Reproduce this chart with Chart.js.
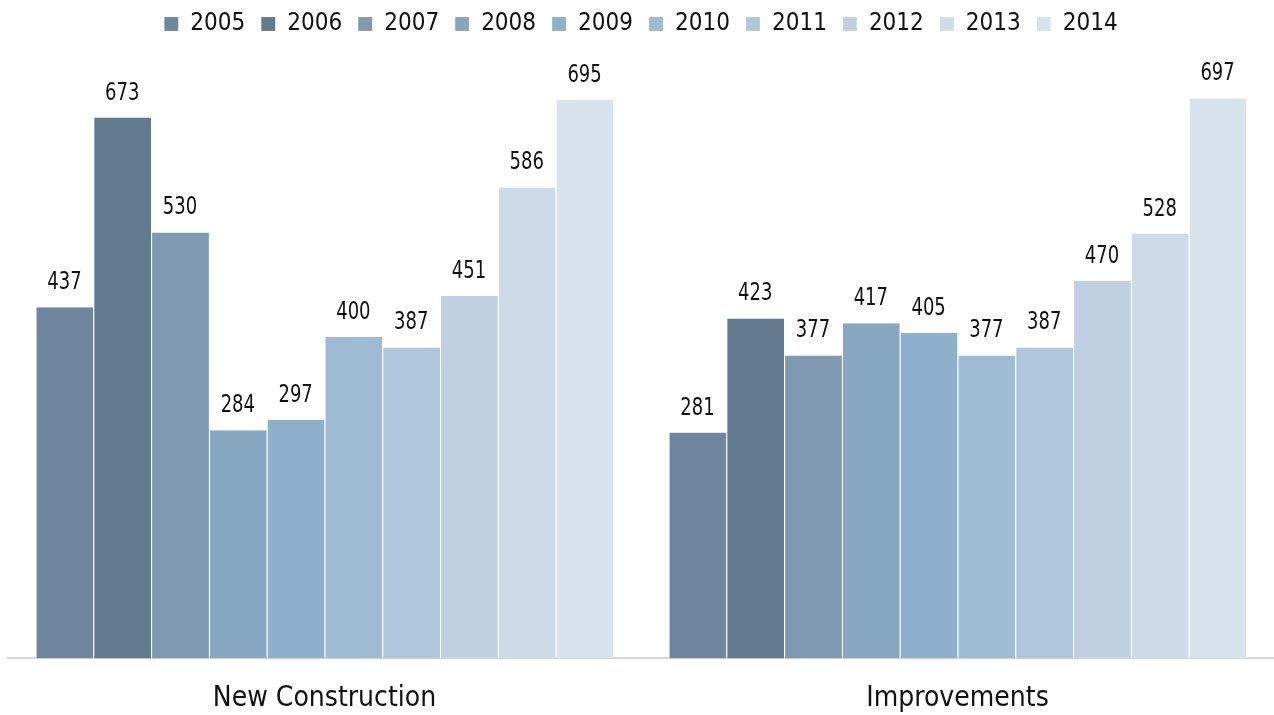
<!DOCTYPE html>
<html>
  <head>
    <meta charset="utf-8">
    <title>Construction vs Improvements</title>
    <script src="https://cdn.jsdelivr.net/npm/chart.js@4.4.0/dist/chart.umd.min.js"></script>
    <style>
      html, body { margin: 0; padding: 0; background: #fff; }
      #wrap { width: 1274px; height: 715px; }
    </style>
  </head>
  <body>
    <div id="wrap"><canvas id="chart"></canvas></div>

    <script type="text/javascript">
    var categories = ["New Construction", "Improvements"]
    var years = ["2005", "2006", "2007", "2008", "2009", "2010", "2011", "2012", "2013", "2014"]
    var newConstruction = [437, 673, 530, 284, 297, 400, 387, 451, 586, 695]
    var improvements = [281, 423, 377, 417, 405, 377, 387, 470, 528, 697]

    var colors = ["#6f879e", "#627a8f", "#7e99b0", "#87a6bf", "#8eb0cb",
                  "#9fbbd4", "#b0c6dc", "#c0d0e2", "#cddae7", "#d9e3ed"]

    var font = "'Liberation Sans Narrow', 'Arial Narrow', 'DejaVu Sans Condensed', sans-serif"
    Chart.defaults.font.family = font
    Chart.defaults.color = "#111"

    var datasets = years.map(function(y, i) {
      return {
        label: y,
        data: [newConstruction[i], improvements[i]],
        backgroundColor: colors[i],
        borderColor: "rgba(255,255,255,0.55)",
        borderWidth: {left: 1, right: 0, top: 0, bottom: 0},
        borderSkipped: false,
        categoryPercentage: 0.913,
        barPercentage: 1
      }
    })

    // draws the value above every bar (squeezed a bit, the original font is narrow)
    var valueLabels = {
      id: "valueLabels",
      afterDatasetsDraw: function(chart) {
        var ctx = chart.ctx
        var sx = 0.8
        ctx.save()
        ctx.font = "25px " + font
        ctx.fillStyle = "#111"
        ctx.textAlign = "center"
        ctx.textBaseline = "alphabetic"
        chart.data.datasets.forEach(function(ds, i) {
          chart.getDatasetMeta(i).data.forEach(function(bar, j) {
            ctx.save()
            ctx.translate(bar.x, bar.y - 18)
            ctx.scale(sx, 1)
            ctx.fillText(ds.data[j], 0, 0)
            ctx.restore()
          })
        })
        ctx.restore()
      }
    }

    var chart = new Chart(document.getElementById("chart"), {
      type: "bar",
      data: { labels: categories, datasets: datasets },
      plugins: [valueLabels],
      options: {
        responsive: true,
        maintainAspectRatio: false,
        animation: false,
        layout: { padding: { left: 8, right: 0, top: -4, bottom: -17 } },
        plugins: {
          tooltip: { enabled: false },
          legend: {
            position: "top",
            labels: {
              boxWidth: 14,
              boxHeight: 14,
              padding: 16,
              font: { size: 24 },
              color: "#111"
            }
          }
        },
        scales: {
          x: {
            grid: { display: false },
            border: { color: "#d6d6d6", width: 2 },
            ticks: { font: { size: 28 }, color: "#111", padding: 16 }
          },
          y: {
            display: false,
            min: 0,
            max: 762
          }
        }
      }
    })
    </script>
  </body>
</html>
